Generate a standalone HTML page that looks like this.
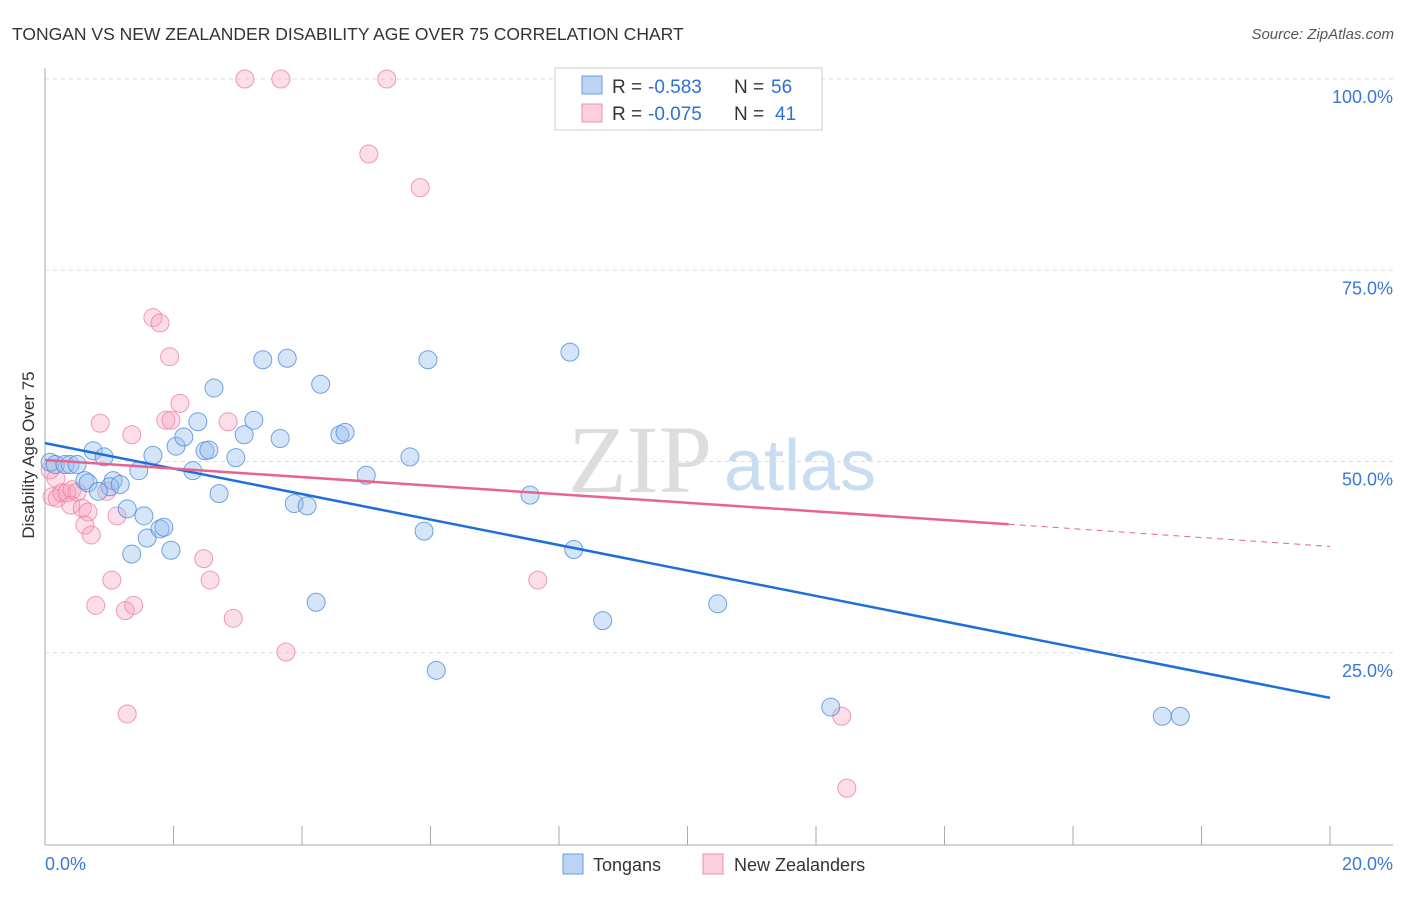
<!DOCTYPE html>
<html><head><meta charset="utf-8"><style>
body{margin:0;background:#fff;font-family:"Liberation Sans",sans-serif}
</style></head><body>
<svg id="c" width="1406" height="892" xmlns="http://www.w3.org/2000/svg">
<text x="12" y="40" font-size="17.5" fill="#333">TONGAN VS NEW ZEALANDER DISABILITY AGE OVER 75 CORRELATION CHART</text>
<text x="1394" y="39" font-size="15" fill="#555" font-style="italic" text-anchor="end">Source: ZipAtlas.com</text>
<text x="640" y="492" font-size="96" fill="#ddd" font-family="Liberation Serif,serif" text-anchor="middle">ZIP</text>
<text x="800" y="490" font-size="72" fill="#c8dcf2" text-anchor="middle">atlas</text>
<text transform="translate(34,455) rotate(-90)" font-size="17" fill="#333" text-anchor="middle">Disability Age Over 75</text>
<g id="grid"></g><g id="pts"></g><g id="lines"></g>
<g>
<rect x="555" y="68" width="267" height="62" fill="#fff" stroke="#ccc"/>
<rect x="582" y="76" width="20" height="18" fill="#bcd4f4" stroke="#6a9be0"/>
<rect x="582" y="104" width="20" height="18" fill="#fbcfdc" stroke="#ee8fad"/>
<text x="612" y="93" font-size="19" fill="#333">R =</text>
<text x="648" y="93" font-size="19" fill="#2f6fd6">-0.583</text>
<text x="734" y="93" font-size="19" fill="#333">N =</text>
<text x="771" y="93" font-size="19" fill="#2f6fd6">56</text>
<text x="612" y="120" font-size="19" fill="#333">R =</text>
<text x="648" y="120" font-size="19" fill="#2f6fd6">-0.075</text>
<text x="734" y="120" font-size="19" fill="#333">N =</text>
<text x="775" y="120" font-size="19" fill="#2f6fd6">41</text>
</g>
<g>
<rect x="563" y="854" width="20" height="20" fill="#bcd4f4" stroke="#6a9be0"/>
<text x="593" y="871" font-size="18" fill="#333">Tongans</text>
<rect x="703" y="854" width="20" height="20" fill="#fbcfdc" stroke="#ee8fad"/>
<text x="734" y="871" font-size="18" fill="#333">New Zealanders</text>
</g>
</svg>
<script>
const yTicks=[100,75,50,25];
const xTickLabels=["0.0%","20.0%"];
const blueX=[0.08,0.16,0.31,0.39,0.5,0.75,0.92,0.62,0.67,1.06,1.01,1.17,0.83,1.46,1.68,1.28,1.54,1.59,1.35,1.79,1.85,1.96,2.04,2.16,2.3,2.38,2.49,2.55,2.63,2.71,2.97,3.1,3.25,3.39,3.66,3.77,3.88,4.08,4.22,4.29,4.59,4.67,5.0,5.68,5.9,5.96,6.09,7.55,8.17,8.23,8.68,10.47,12.23,17.39,17.67];
const blueY=[49.9,49.6,49.6,49.6,49.6,51.4,50.6,47.5,47.2,47.5,46.7,47.0,46.1,48.8,50.8,43.8,42.9,40.0,37.9,41.2,41.4,38.4,52.0,53.2,48.8,55.2,51.4,51.5,59.6,45.8,50.5,53.5,55.4,63.3,53.0,63.5,44.5,44.2,31.6,60.1,53.5,53.8,48.2,50.6,40.9,63.3,22.7,45.6,64.3,38.5,29.2,31.4,17.9,16.7,16.7];
const pinkX=[3.11,3.67,5.32,5.04,5.84,1.68,1.79,1.94,2.1,1.88,1.96,2.85,0.86,1.35,0.08,0.17,0.11,0.19,0.26,0.34,0.42,0.5,0.4,0.58,0.67,0.62,0.72,0.96,1.12,2.47,2.57,1.04,0.79,1.25,1.38,2.93,3.75,7.67,1.28,12.4,12.48];
const pinkY=[100,100,100,90.2,85.8,68.8,68.1,63.7,57.6,55.4,55.4,55.2,55.0,53.5,48.9,47.8,45.4,45.2,45.9,45.9,46.3,46.0,44.3,43.9,43.4,41.7,40.4,46.1,42.9,37.3,34.5,34.5,31.2,30.5,31.2,29.5,25.1,34.5,17.0,16.7,7.3];
const blueTrend=[52.4,19.1];
const pinkTrend=[50.2,41.8,38.9];
const X=v=>45+v/20*1285, Y=v=>844-v/100*765;
const NS="http://www.w3.org/2000/svg";
function mk(t,a,p){const e=document.createElementNS(NS,t);for(const k in a)e.setAttribute(k,a[k]);p.appendChild(e);return e;}
const grid=document.getElementById('grid');
yTicks.forEach(t=>{
const l=mk('line',{x1:45,x2:1393,y1:Y(t),y2:Y(t),stroke:'#ddd','stroke-dasharray':'4,4'},grid);


const tx=mk('text',{x:1393,y:Y(t)+24,'font-size':18,fill:'#3a78d4','text-anchor':'end'},grid);tx.textContent=t.toFixed(1)+'%';


});
const ax=mk('line',{x1:45,x2:45,y1:68,y2:845,stroke:'#aaa'},grid);


const bx=mk('line',{x1:45,x2:1393,y1:845,y2:845,stroke:'#aaa'},grid);


for(let i=0;i<=10;i++){const t=mk('line',{x1:X(i*2),x2:X(i*2),y1:826,y2:845,stroke:'#aaa'},grid);

}
[[X(0)+0,'start',xTickLabels[0]],[1393,'end',xTickLabels[1]]].forEach(([x,a,s])=>{const t=mk('text',{x:x,y:870,'font-size':18,fill:'#3a78d4','text-anchor':a},grid);t.textContent=s;

});
const pts=document.getElementById('pts');
pinkX.forEach((x,i)=>{const c=mk('circle',{cx:X(x),cy:Y(pinkY[i]),r:9,fill:'rgba(246,160,188,0.35)',stroke:'rgba(236,130,165,0.8)'},pts);

});
blueX.forEach((x,i)=>{const c=mk('circle',{cx:X(x),cy:Y(blueY[i]),r:9,fill:'rgba(150,190,238,0.4)',stroke:'rgba(80,140,220,0.8)'},pts);

});
const L=document.getElementById('lines');
const b=mk('line',{x1:X(0),y1:Y(blueTrend[0]),x2:X(20),y2:Y(blueTrend[1]),stroke:'#1f6fd8','stroke-width':2.5},L);


const p=mk('line',{x1:X(0),y1:Y(pinkTrend[0]),x2:X(15),y2:Y(pinkTrend[1]),stroke:'#e8638f','stroke-width':2.5},L);


const pd=mk('line',{x1:X(15),y1:Y(pinkTrend[1]),x2:X(20),y2:Y(pinkTrend[2]),stroke:'#e8638f','stroke-width':1,'stroke-dasharray':'6,5'},L);


</script>
</body></html>
